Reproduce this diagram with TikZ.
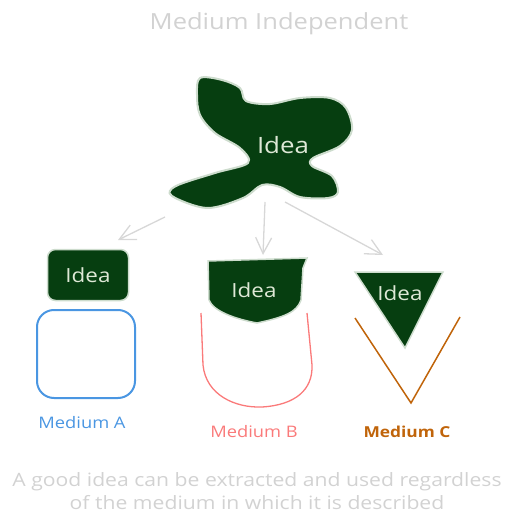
\documentclass[tikz,border=0pt]{standalone}
\usepackage{fontspec}
\setmainfont{Open Sans}[FakeStretch = 1.15]
\usetikzlibrary{arrows.meta, positioning}
\definecolor{ideagreen}{RGB}{6,62,16}
\definecolor{ideaedge}{RGB}{205,220,205}
\definecolor{idealabel}{RGB}{222,232,214}
\definecolor{softgray}{RGB}{210,210,210}
\definecolor{arrowgray}{RGB}{215,215,215}
\definecolor{mediumblue}{RGB}{74,150,226}
\definecolor{mediumred}{RGB}{250,122,122}
\definecolor{mediumbrown}{RGB}{192,100,10}
\def \ideafont {\fontsize{19.5}{22}\selectfont}
\def \labelfont {\fontsize{15.9}{19}\selectfont}

\begin{document}
\begin{tikzpicture}[x = 1pt, y = -1pt, >={Straight Barb[length = 16pt, width = 16pt]}]
\useasboundingbox (0,0) rectangle (512,526);

\node (title) [text = softgray, font = \fontsize{22.2}{26}\selectfont] at (279,24) {Medium Independent};

% the idea itself
\draw[fill = ideagreen, draw = ideaedge, line width = 2pt] plot [smooth cycle, tension = 0.55] coordinates {(200,78) (222,80) (240,88) (246,101) (270,104) (300,98) (330,98) (346,108) (352,130) (340,146) (313,158) (312,166) (332,176) (338,192) (328,198) (300,197) (280,187) (262,185) (243,198) (207,208) (172,196) (176,186) (215,173) (248,163) (240,148) (215,133) (200,115) (197,95)};
\node (bigidea) [text = idealabel, font = \fontsize{22.5}{26}\selectfont] at (283,145) {Idea};

\coordinate (fromA) at (165,217);
\coordinate (toA) at (118,240);
\coordinate (fromB) at (265,202);
\coordinate (toB) at (263,255);
\coordinate (fromC) at (285,202);
\coordinate (toC) at (383,255);
\draw[->, arrowgray, line width = 1.3pt] (fromA) to (toA);
\draw[->, arrowgray, line width = 1.3pt] (fromB) to (toB);
\draw[->, arrowgray, line width = 1.3pt] (fromC) to (toC);

% medium A
\node (ideaA) [draw = ideaedge, fill = ideagreen, line width = 1.5pt, rounded corners = 8pt, minimum width = 81pt, minimum height = 51pt, text = idealabel, font = \ideafont] at (88,275) {Idea};
\node (boxA) [draw = mediumblue, line width = 2pt, rounded corners = 17pt, minimum width = 98pt, minimum height = 88pt] at (86,354) {};
\node (labelA) [text = mediumblue, font = \labelfont] at (82,423) {Medium A};

% medium B
\draw[fill = ideagreen, draw = ideaedge, line width = 1.5pt] (208,261) -- (307,258) -- (303,268) -- (301,300) .. controls (297,312) and (285,317) .. (257,323) .. controls (235,319) and (213,311) .. (209,300) -- cycle;
\node (ideaB) [text = idealabel, font = \ideafont] at (254,290) {Idea};
\draw[mediumred, line width = 1.3pt] (201,313) -- (203,365) .. controls (206,395) and (235,408) .. (262,407) .. controls (295,405) and (313,390) .. (312,365) -- (307,313);
\node (labelB) [text = mediumred, font = \labelfont] at (254,432) {Medium B};

% medium C
\draw[fill = ideagreen, draw = ideaedge, line width = 1.5pt] (355,272) -- (443,272) -- (405,348) -- cycle;
\node (ideaC) [text = idealabel, font = \ideafont] at (400,293) {Idea};
\draw[mediumbrown, line width = 1.5pt] (355,318) -- (411,403) -- (460,317);
\node (labelC) [text = mediumbrown, font = \fontsize{15.1}{19}\selectfont\bfseries] at (407,432) {Medium C};

\node (caption) [text = softgray, align = center, font = \fontsize{18.4}{23}\selectfont] at (257,491) {A good idea can be extracted and used regardless\\of the medium in which it is described};

\end{tikzpicture}
\end{document}
